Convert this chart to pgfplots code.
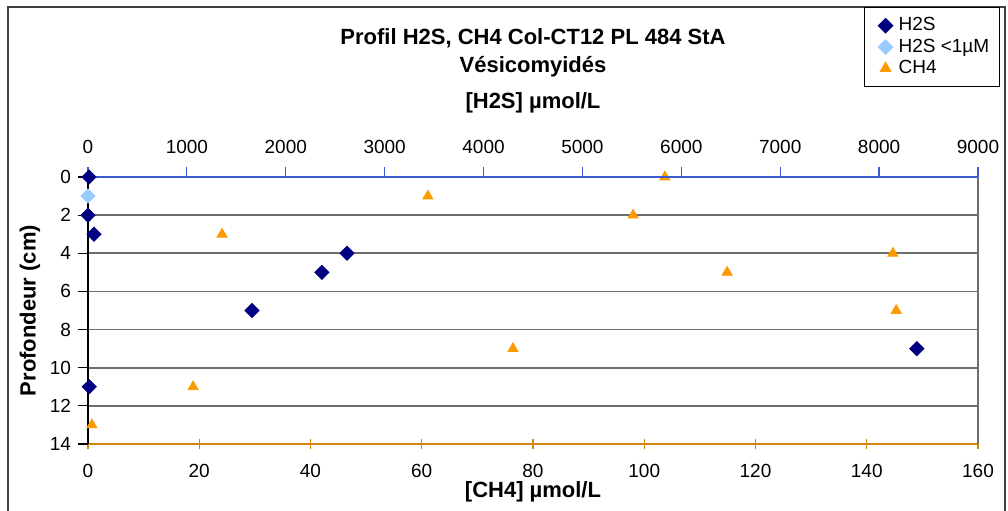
\documentclass[border=0pt]{standalone}
\usepackage{pgfplots}
\pgfplotsset{compat=1.18}
\usepackage{fontspec}
\setmainfont{Liberation Sans}
\definecolor{navyd}{RGB}{0,0,128}
\definecolor{lightb}{RGB}{153,204,255}
\definecolor{orangem}{RGB}{255,153,0}
\definecolor{topblue}{RGB}{60,90,210}
\definecolor{botorange}{RGB}{210,135,10}
\definecolor{gridg}{RGB}{110,110,110}
\pgfplotsset{mylegimg/.style={legend image code/.code={\path[draw=none,fill=none] (0pt,-2pt) rectangle (12pt,2pt); \draw[##1] plot coordinates {(7.5pt,0pt)};}}}
\begin{document}
\begin{tikzpicture}
\useasboundingbox (-44pt,-33pt) rectangle (460pt,222pt);
\draw[black!75, line width=1pt] (-40pt,-40pt) -- (-40pt,218.5pt) -- (458.5pt,218.5pt) -- (458.5pt,-40pt);
\begin{axis}[
  at={(0pt,0pt)}, anchor=south west,
  scale only axis, width=445pt, height=133.5pt,
  xmin=0, xmax=160, ymin=0, ymax=14, y dir=reverse,
  xtick={0,20,...,160}, ytick={0,2,...,14},
  axis x line*=bottom, axis y line*=left,
  x axis line style={botorange, line width=1.2pt, -},
  y axis line style={black, line width=0.8pt, -},
  xtick style={botorange, line width=0.6pt},
  ytick style={black, line width=0.6pt},
  xtick align=center, ytick align=outside,
  major tick length=5pt,
  ymajorgrids, grid style={gridg, line width=0.8pt},
  tick label style={font=\fontsize{9.5}{11}\selectfont, black},
  /pgf/number format/assume math mode=true,
  xticklabel style={yshift=-4pt},
  yticklabel style={xshift=0pt},
  clip=false,
]
\addplot[only marks, mark=triangle*, mark size=2.9pt, color=orangem] coordinates {
(103.7,0) (61.1,1) (98.0,2) (24.1,3) (144.7,4) (114.9,5) (145.3,7) (76.4,9) (18.9,11) (0.7,13)
};
\end{axis}
\begin{axis}[
  at={(0pt,0pt)}, anchor=south west,
  scale only axis, width=445pt, height=133.5pt,
  xmin=0, xmax=9000, ymin=0, ymax=14, y dir=reverse,
  xtick={0,1000,...,9000},
  axis x line*=top, axis y line=none,
  x axis line style={topblue, line width=1pt, -},
  xtick style={topblue, line width=0.6pt},
  xtick align=outside,
  major tick length=5pt,
  tick label style={font=\fontsize{9.5}{11}\selectfont, black},
  /pgf/number format/assume math mode=true,
  /pgf/number format/set thousands separator={},
  xticklabel style={yshift=3pt},
  clip=false,
  legend style={at={(axis description cs:0.8719,1.6367)}, anchor=north west,
    draw=black, line width=0.6pt, font=\fontsize{9.5}{11}\selectfont,
    inner xsep=3pt, inner ysep=3pt, row sep=-1.5pt},
  legend cell align=left,
]
\draw[gridg, line width=0.8pt] (rel axis cs:1,0) -- (rel axis cs:1,1);
\addplot[only marks, mylegimg, mark=square*, mark size=2.5pt, mark options={rotate=45}, color=navyd] coordinates {
(10,0) (0,2) (60,3) (2619,4) (2366,5) (1658,7) (8381,9) (13,11)
};
\addlegendentry{H2S}
\addplot[only marks, mylegimg, mark=square*, mark size=2.5pt, mark options={rotate=45}, color=lightb] coordinates {
(0,1)
};
\addlegendentry{H2S <1µM}
\addlegendimage{only marks, mylegimg, mark=triangle*, mark size=2.9pt, color=orangem}
\addlegendentry{CH4}
\end{axis}
\node[font=\bfseries\fontsize{11}{12}\selectfont] at (222.5pt,203pt) {Profil H2S, CH4 Col-CT12 PL 484 StA};
\node[font=\bfseries\fontsize{11}{12}\selectfont] at (222.5pt,188.5pt) {Vésicomyidés};
\node[font=\bfseries\fontsize{11}{12}\selectfont] at (222.5pt,170.5pt) {[H2S] µmol/L};
\node[font=\bfseries\fontsize{11}{12}\selectfont] at (222.5pt,-24pt) {[CH4] µmol/L};
\node[font=\bfseries\fontsize{11}{12}\selectfont, rotate=90] at (-29pt,66.75pt) {Profondeur (cm)};
\end{tikzpicture}
\end{document}
